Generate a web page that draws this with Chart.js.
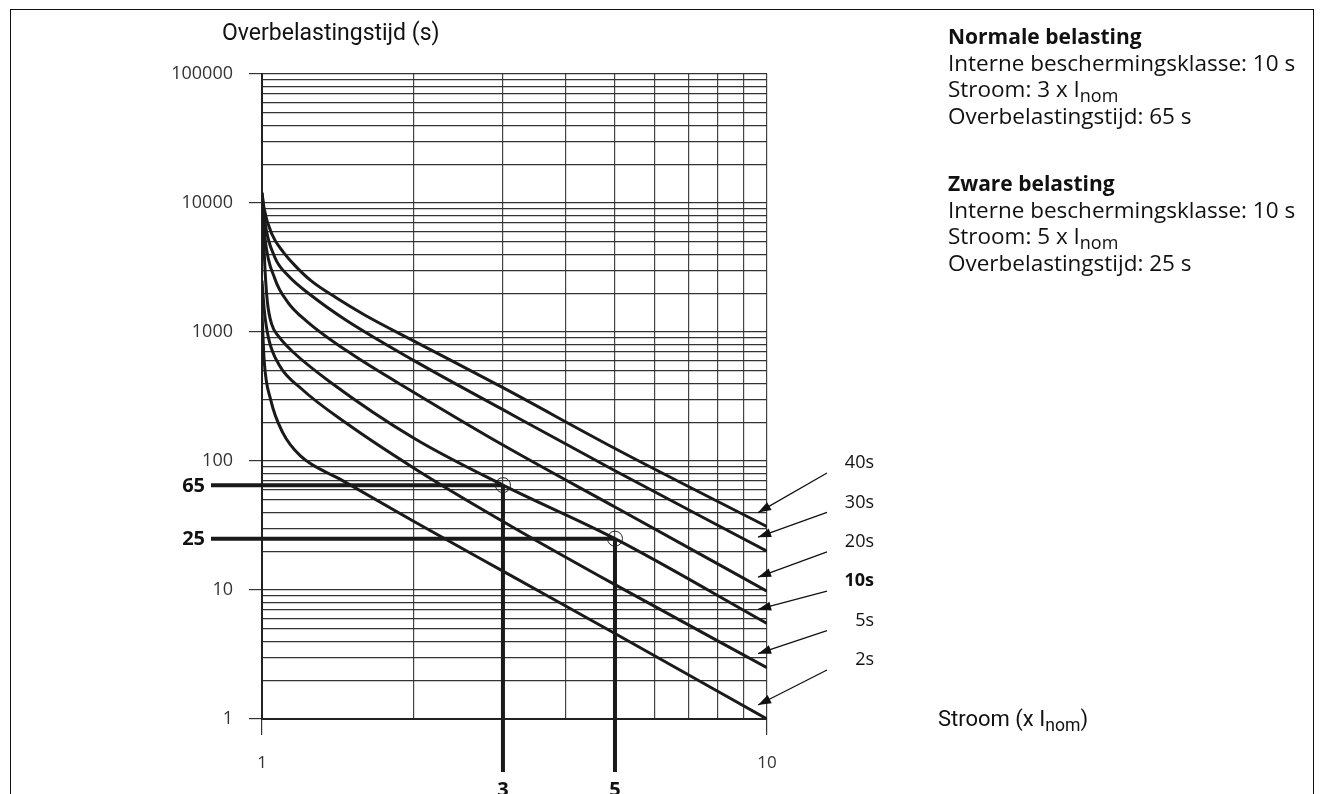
<!DOCTYPE html>
<html>
<head>
<meta charset="utf-8">
<script src="https://cdn.jsdelivr.net/npm/chart.js@4.4.1/dist/chart.umd.min.js"></script>
<style>
  body { margin: 0; background: #fff; }
  #wrap { position: relative; width: 1321px; height: 794px; overflow: hidden; }
  #frame { position: absolute; left: 10px; top: 9px; width: 1302px; height: 830px; border: 1px solid #111; }
  canvas { position: absolute; left: 0; top: 0; }
  .astitel { position: absolute; font-family: Roboto, sans-serif; font-size: 23px; color: #111; white-space: nowrap; }
  #info { position: absolute; left: 948px; top: 23px; font-family: "Open Sans", sans-serif; font-size: 22.5px; line-height: 26.5px; color: #111; white-space: nowrap; }
  #info b { font-size: 21px; }
  #info .blok { margin-bottom: 41px; }
  sub { font-size: 0.8em; line-height: 0; vertical-align: -0.3em; }
</style>
</head>
<body>
<div id="wrap">
  <div id="frame"></div>
  <canvas id="kromme" width="1321" height="794"></canvas>
  <div class="astitel" style="left:222px; top:19px;">Overbelastingstijd (s)</div>
  <div class="astitel" style="left:938px; top:706px; font-size:22px;">Stroom (x I<sub>nom</sub>)</div>
  <div id="info">
    <div class="blok">
      <b>Normale belasting</b><br>
      Interne beschermingsklasse: 10 s<br>
      Stroom: 3 x I<sub>nom</sub><br>
      Overbelastingstijd: 65 s
    </div>
    <div class="blok">
      <b>Zware belasting</b><br>
      Interne beschermingsklasse: 10 s<br>
      Stroom: 5 x I<sub>nom</sub><br>
      Overbelastingstijd: 25 s
    </div>
  </div>
</div>
<script>
// Krommen per beschermingsklasse: stroom (x Inom) en overbelastingstijd (s)
const klasseNamen = ['40s', '30s', '20s', '10s', '5s', '2s'];

const stroom40 = [1, 1.01, 1.047, 1.1, 1.16, 1.25, 1.4, 1.6, 2, 3, 5, 10];
const tijd40   = [12000, 9000, 5700, 4200, 3300, 2500, 1850, 1350, 850, 370, 125, 31];

const stroom30 = [1, 1.014, 1.06, 1.125, 1.256, 1.46, 2, 3, 5, 10];
const tijd30   = [12000, 7000, 3800, 2750, 1900, 1250, 600, 250, 84, 20];

const stroom20 = [1, 1.014, 1.06, 1.125, 1.23, 1.5, 2, 3, 5, 10];
const tijd20   = [11000, 5300, 2600, 1700, 1200, 680, 340, 133, 44, 9.8];

const stroom10 = [1, 1.014, 1.025, 1.045, 1.08, 1.152, 1.364, 2, 3, 5, 10];
const tijd10   = [10000, 3000, 1700, 1150, 920, 700, 410, 150, 65, 25, 5.5];

const stroom5 = [1, 1.01, 1.03, 1.08, 1.2, 1.47, 2, 3, 5, 10];
const tijd5   = [2500, 1500, 900, 560, 360, 196, 88, 34, 11, 2.5];

const stroom2 = [1, 1.01, 1.04, 1.1, 1.19, 1.43, 2, 3, 5, 10];
const tijd2   = [1400, 600, 300, 165, 110, 72, 34, 14, 4.6, 1];

// Voorbeeldpunten (normale en zware belasting)
const markerStroom = [3, 5];
const markerTijd = [65, 25];

// As-labels
const xLabels = [1, 10];
const yLabels = [1, 10, 100, 1000, 10000, 100000];

const krommen = [
  [stroom40, tijd40], [stroom30, tijd30], [stroom20, tijd20],
  [stroom10, tijd10], [stroom5, tijd5], [stroom2, tijd2]
];

// rasterlijnen op 1..9 per decade
function logRaster(min, max) {
  const out = [];
  for (let d = min; d < max; d *= 10) {
    for (let k = 1; k < 10; k++) out.push({ value: Math.round(k * d * 1000) / 1000 });
  }
  out.push({ value: max });
  return out;
}

const annotaties = {
  id: 'annotaties',
  beforeDatasetsDraw(chart) {
    const { ctx, chartArea, scales: { x, y } } = chart;
    ctx.save();
    ctx.strokeStyle = '#1a1a1a';
    ctx.lineWidth = 4;
    markerStroom.forEach((s, i) => {
      const px = x.getPixelForValue(s);
      const py = y.getPixelForValue(markerTijd[i]);
      ctx.beginPath();
      ctx.moveTo(chartArea.left - 51, py);
      ctx.lineTo(px, py);
      ctx.moveTo(px, py);
      ctx.lineTo(px, chartArea.bottom + 53);
      ctx.stroke();
    });
    ctx.restore();
  },
  afterDraw(chart) {
    const { ctx, chartArea, scales: { x, y } } = chart;
    ctx.save();
    ctx.fillStyle = '#111';
    // vetgedrukte labels bij de voorbeeldpunten
    ctx.font = 'bold 20px "Open Sans"';
    markerStroom.forEach((s, i) => {
      const px = x.getPixelForValue(s);
      const py = y.getPixelForValue(markerTijd[i]);
      ctx.textAlign = 'right';
      ctx.textBaseline = 'middle';
      ctx.fillText(String(markerTijd[i]), chartArea.left - 57, py + 1);
      ctx.textAlign = 'center';
      ctx.textBaseline = 'top';
      ctx.fillText(String(s), px, chartArea.bottom + 61);
    });

    // klasse-labels met pijlen
    klasseNamen.forEach((naam, i) => {
      const ly = chartArea.bottom - 256 + i * 39.4;
      const lx = chartArea.right + 107;
      ctx.font = (naam === '10s' ? 'bold ' : '') + '18px "Open Sans"';
      ctx.textAlign = 'right';
      ctx.textBaseline = 'middle';
      ctx.fillText(naam, lx, ly);

      const t = krommen[i][1];
      const tx = x.getPixelForValue(9.6);
      const ty = y.getPixelForValue(t[t.length - 1]) - 14;
      const sx = chartArea.right + 60, sy = ly + 10;
      ctx.strokeStyle = '#111';
      ctx.lineWidth = 1.3;
      ctx.beginPath();
      ctx.moveTo(sx, sy);
      ctx.lineTo(tx, ty);
      ctx.stroke();
      const a = Math.atan2(ty - sy, tx - sx);
      ctx.beginPath();
      ctx.moveTo(tx, ty);
      ctx.lineTo(tx - 13 * Math.cos(a) + 4.5 * Math.sin(a), ty - 13 * Math.sin(a) - 4.5 * Math.cos(a));
      ctx.lineTo(tx - 13 * Math.cos(a) - 4.5 * Math.sin(a), ty - 13 * Math.sin(a) + 4.5 * Math.cos(a));
      ctx.closePath();
      ctx.fill();
    });
    ctx.restore();
  }
};

const datasets = krommen.map(([xs, ys], i) => ({
  label: klasseNamen[i],
  data: xs.map((v, j) => ({ x: v, y: ys[j] })),
  borderColor: '#1a1a1a',
  borderWidth: 3,
  pointRadius: 0,
  cubicInterpolationMode: 'monotone',
  fill: false
}));

datasets.push({
  label: 'punten',
  data: markerStroom.map((v, i) => ({ x: v, y: markerTijd[i] })),
  showLine: false,
  pointRadius: 7.5,
  pointBorderWidth: 1,
  pointBorderColor: '#222',
  pointBackgroundColor: 'rgba(0,0,0,0)',
  clip: false
});

const ctx = document.getElementById('kromme').getContext('2d');
const myChart = new Chart(ctx, {
  type: 'line',
  data: { datasets: datasets },
  options: {
    responsive: false,
    animation: false,
    layout: { padding: { top: 74, right: 554, bottom: 0, left: 0 } },
    plugins: { legend: { display: false }, tooltip: { enabled: false } },
    scales: {
      x: {
        type: 'logarithmic',
        min: 1,
        max: 10,
        afterBuildTicks: s => { s.ticks = logRaster(1, 10); },
        afterFit: s => { s.height = 75; },
        border: { color: '#222', width: 2 },
        grid: {
          color: '#444',
          lineWidth: 1.2,
          tickLength: 16,
          tickColor: c => (c.tick && xLabels.includes(c.tick.value)) ? '#333' : 'rgba(0,0,0,0)'
        },
        ticks: {
          autoSkip: false,
          maxRotation: 0,
          padding: 18,
          color: '#333',
          font: { family: 'Open Sans', size: 17 },
          callback: v => xLabels.includes(v) ? String(v) : ''
        }
      },
      y: {
        type: 'logarithmic',
        min: 1,
        max: 100000,
        afterBuildTicks: s => { s.ticks = logRaster(1, 100000); },
        afterFit: s => { s.width = 262; },
        border: { color: '#222', width: 2 },
        grid: {
          color: '#333',
          lineWidth: 1.2,
          tickLength: 13,
          tickColor: c => (c.tick && yLabels.includes(c.tick.value)) ? '#333' : 'rgba(0,0,0,0)'
        },
        ticks: {
          autoSkip: false,
          padding: 16,
          color: '#333',
          font: { family: 'Open Sans', size: 18 },
          callback: v => yLabels.includes(v) ? String(v) : ''
        }
      }
    }
  },
  plugins: [annotaties]
});
</script>
</body>
</html>
